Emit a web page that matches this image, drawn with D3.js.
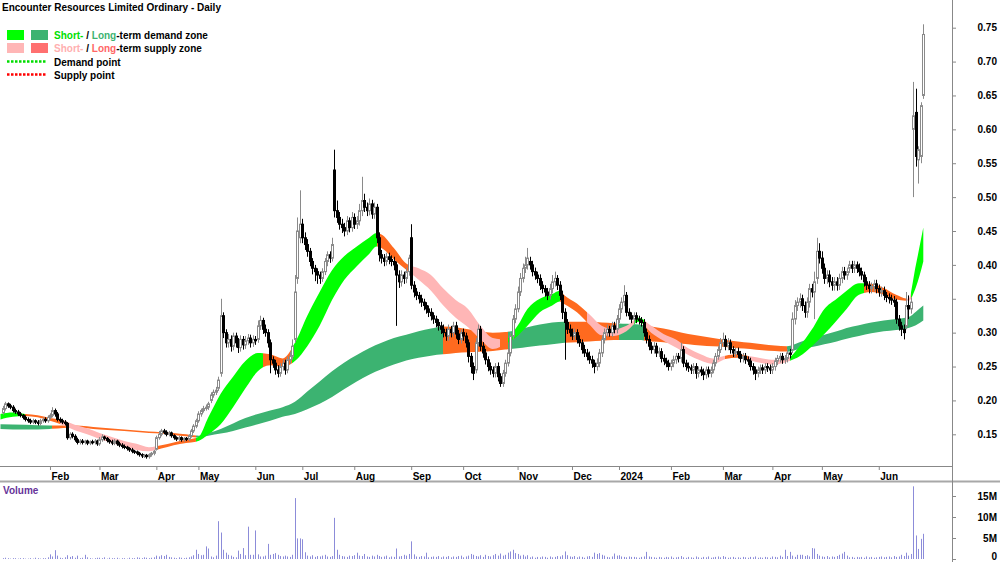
<!DOCTYPE html>
<html>
<head>
<meta charset="utf-8">
<script src="https://cdn.jsdelivr.net/npm/d3@7"></script>
<style>
body { margin: 0; background: #fff; }
text { font-family: "Liberation Sans", Arial, sans-serif; font-weight: bold; font-size: 10px; }
</style>
</head>
<body>
<svg id="chart" width="1000" height="562"></svg>
<script>
// daily bars, first bar 4 Jan 2023
var open = [
  0.182,0.188,0.195,0.192,0.190,0.185,0.183,0.180,0.178,
  0.175,0.172,0.170,0.168,0.170,0.168,0.166,0.170,0.172,0.170,
  0.175,0.178,0.185,0.180,0.172,0.170,0.168,0.166,0.145,0.150,
  0.147,0.142,0.138,0.140,0.138,0.140,0.137,0.139,0.138,0.140,
  0.136,0.142,0.146,0.144,0.141,0.139,0.137,0.140,0.136,0.134,
  0.132,0.131,0.129,0.127,0.125,0.124,0.122,0.120,0.118,0.119,
  0.117,0.120,0.122,0.128,0.145,0.150,0.155,0.153,0.150,0.152,
  0.148,0.145,0.143,0.145,0.142,0.144,0.143,0.148,0.155,0.162,
  0.170,0.180,0.185,0.188,0.190,0.200,0.208,0.212,0.218,
  0.240,0.325,0.300,0.285,0.290,0.280,0.295,0.285,0.278,0.290,
  0.282,0.288,0.292,0.285,0.290,0.290,0.310,0.318,0.305,0.300,
  0.285,0.260,0.255,0.245,0.240,0.250,0.255,0.245,0.260,0.265,
  0.290,0.380,0.440,0.460,0.440,0.430,0.420,0.405,0.395,0.390,
  0.385,0.380,0.390,0.405,0.415,0.410,0.540,0.480,0.470,0.460,
  0.455,0.450,0.465,0.455,0.470,0.460,0.465,0.480,0.495,0.485,
  0.480,0.490,0.475,0.485,0.440,0.415,0.410,0.405,0.412,0.408,
  0.405,0.400,0.385,0.375,0.385,0.380,0.390,0.440,0.370,0.360,
  0.355,0.350,0.345,0.340,0.335,0.330,0.325,0.320,0.315,0.310,
  0.305,0.300,0.295,0.305,0.300,0.310,0.298,0.290,0.300,0.295,
  0.285,0.265,0.250,0.245,0.285,0.305,0.280,0.270,0.260,0.250,
  0.245,0.240,0.250,0.235,0.225,0.240,0.255,0.270,0.295,0.320,
  0.335,0.360,0.380,0.395,0.400,0.405,0.400,0.390,0.385,
  0.380,0.370,0.365,0.360,0.355,0.365,0.375,0.380,0.370,0.355,
  0.330,0.315,0.305,0.300,0.295,0.300,0.290,0.285,0.275,0.270,
  0.265,0.260,0.255,0.250,0.255,0.270,0.290,0.300,0.305,0.300,
  0.310,0.305,0.320,0.335,0.345,0.355,0.330,0.325,0.320,0.325,
  0.320,0.318,0.315,0.300,0.290,0.280,0.275,0.280,0.270,0.272,
  0.262,0.258,0.255,0.250,0.255,0.260,0.265,0.262,0.275,0.255,
  0.250,0.248,0.245,0.250,0.240,0.245,0.242,0.238,0.245,0.240,
  0.245,0.255,0.265,0.275,0.285,0.290,0.280,0.285,0.275,0.270,
  0.272,0.268,0.262,0.265,0.260,0.258,0.250,0.245,0.240,0.245,
  0.248,0.245,0.250,0.248,0.245,0.250,0.258,0.262,0.265,0.260,
  0.262,0.270,0.275,0.320,0.340,0.345,0.350,0.340,0.330,0.345,
  0.365,0.360,0.380,0.420,0.410,0.395,0.380,0.385,0.375,0.370,
  0.375,0.370,0.380,0.390,0.385,0.395,0.400,0.395,0.400,
  0.395,0.390,0.385,0.375,0.370,0.365,0.368,0.372,0.365,0.360,
  0.362,0.355,0.352,0.350,0.348,0.345,0.320,0.310,0.305,0.310,
  0.340,0.335,0.600,0.625,0.555,0.560,0.650
];
var high = [
  0.192,0.198,0.197,0.195,0.193,0.188,0.186,0.183,0.180,
  0.178,0.175,0.173,0.173,0.172,0.171,0.173,0.175,0.175,0.178,
  0.181,0.190,0.188,0.183,0.175,0.173,0.171,0.168,0.153,0.153,
  0.150,0.145,0.143,0.143,0.142,0.142,0.141,0.142,0.143,0.142,
  0.146,0.150,0.148,0.146,0.143,0.142,0.143,0.142,0.139,0.137,
  0.135,0.133,0.131,0.130,0.127,0.126,0.124,0.122,0.121,0.121,
  0.122,0.124,0.127,0.148,0.155,0.158,0.158,0.156,0.155,0.154,
  0.150,0.147,0.148,0.147,0.146,0.146,0.150,0.158,0.165,0.173,
  0.184,0.188,0.192,0.194,0.198,0.212,0.216,0.220,0.235,
  0.350,0.330,0.305,0.298,0.296,0.300,0.300,0.292,0.296,0.295,
  0.295,0.298,0.297,0.296,0.295,0.318,0.325,0.322,0.312,0.305,
  0.290,0.265,0.260,0.252,0.255,0.260,0.260,0.265,0.272,0.290,
  0.385,0.470,0.510,0.468,0.448,0.438,0.425,0.410,0.400,0.395,
  0.390,0.395,0.410,0.420,0.420,0.440,0.570,0.495,0.478,0.468,
  0.462,0.472,0.470,0.478,0.476,0.472,0.490,0.530,0.505,0.492,
  0.498,0.496,0.492,0.490,0.448,0.422,0.416,0.418,0.418,0.414,
  0.412,0.405,0.392,0.392,0.390,0.396,0.415,0.460,0.376,0.366,
  0.360,0.356,0.350,0.345,0.340,0.336,0.330,0.325,0.320,0.316,
  0.312,0.306,0.312,0.310,0.316,0.316,0.304,0.305,0.306,0.300,
  0.290,0.270,0.256,0.292,0.312,0.310,0.286,0.276,0.265,0.256,
  0.250,0.255,0.256,0.240,0.245,0.260,0.276,0.300,0.326,0.342,
  0.368,0.388,0.402,0.412,0.425,0.412,0.406,0.396,0.390,
  0.386,0.376,0.370,0.366,0.372,0.385,0.390,0.385,0.376,0.362,
  0.336,0.320,0.312,0.306,0.306,0.305,0.296,0.290,0.282,0.276,
  0.272,0.266,0.260,0.262,0.276,0.296,0.306,0.312,0.310,0.316,
  0.316,0.326,0.342,0.352,0.370,0.360,0.336,0.330,0.330,0.330,
  0.325,0.323,0.320,0.306,0.296,0.286,0.286,0.285,0.278,0.277,
  0.268,0.263,0.260,0.260,0.266,0.270,0.270,0.285,0.280,0.260,
  0.256,0.253,0.255,0.255,0.250,0.250,0.247,0.250,0.250,0.250,
  0.260,0.270,0.280,0.292,0.300,0.296,0.292,0.290,0.280,0.278,
  0.278,0.273,0.270,0.270,0.265,0.263,0.255,0.250,0.250,0.253,
  0.253,0.255,0.255,0.253,0.255,0.263,0.267,0.270,0.270,0.267,
  0.276,0.276,0.330,0.348,0.352,0.358,0.356,0.346,0.352,0.372,
  0.372,0.390,0.440,0.432,0.420,0.402,0.392,0.392,0.382,0.382,
  0.382,0.387,0.397,0.397,0.396,0.406,0.406,0.406,0.405,
  0.402,0.396,0.390,0.382,0.376,0.374,0.378,0.378,0.371,0.368,
  0.368,0.360,0.358,0.356,0.354,0.350,0.326,0.316,0.312,0.360,
  0.355,0.352,0.670,0.660,0.575,0.640,0.755
];
var low = [
  0.179,0.185,0.189,0.187,0.182,0.180,0.177,0.175,0.172,
  0.169,0.167,0.165,0.165,0.165,0.163,0.163,0.167,0.167,0.167,
  0.172,0.175,0.176,0.169,0.167,0.165,0.163,0.142,0.142,0.144,
  0.139,0.135,0.135,0.135,0.135,0.134,0.134,0.135,0.135,0.133,
  0.133,0.139,0.141,0.138,0.136,0.134,0.134,0.133,0.131,0.129,
  0.128,0.126,0.124,0.122,0.121,0.119,0.117,0.115,0.115,0.114,
  0.114,0.117,0.119,0.126,0.142,0.147,0.150,0.147,0.147,0.145,
  0.142,0.140,0.140,0.139,0.139,0.140,0.140,0.145,0.152,0.159,
  0.167,0.176,0.182,0.185,0.186,0.196,0.204,0.208,0.214,
  0.235,0.292,0.278,0.278,0.272,0.274,0.278,0.270,0.272,0.275,
  0.276,0.282,0.278,0.279,0.282,0.285,0.304,0.298,0.294,0.278,
  0.240,0.248,0.238,0.234,0.235,0.244,0.238,0.240,0.254,0.260,
  0.285,0.372,0.432,0.432,0.422,0.412,0.398,0.386,0.376,0.372,
  0.372,0.375,0.385,0.398,0.403,0.405,0.470,0.462,0.452,0.447,
  0.442,0.444,0.448,0.449,0.453,0.453,0.458,0.472,0.478,0.472,
  0.473,0.468,0.468,0.432,0.405,0.402,0.398,0.399,0.401,0.398,
  0.392,0.310,0.366,0.368,0.372,0.373,0.384,0.364,0.352,0.348,
  0.343,0.338,0.333,0.328,0.323,0.318,0.313,0.308,0.303,0.298,
  0.293,0.288,0.288,0.293,0.294,0.291,0.283,0.284,0.288,0.278,
  0.256,0.240,0.230,0.240,0.280,0.273,0.263,0.253,0.243,0.238,
  0.234,0.234,0.228,0.220,0.220,0.235,0.250,0.265,0.290,0.314,
  0.330,0.354,0.374,0.388,0.393,0.393,0.383,0.378,0.373,
  0.363,0.358,0.353,0.348,0.349,0.358,0.368,0.363,0.348,0.320,
  0.260,0.298,0.294,0.289,0.289,0.284,0.279,0.269,0.264,0.259,
  0.254,0.248,0.240,0.244,0.249,0.264,0.284,0.294,0.294,0.294,
  0.299,0.299,0.314,0.329,0.339,0.324,0.319,0.314,0.314,0.314,
  0.312,0.309,0.294,0.284,0.274,0.269,0.269,0.264,0.264,0.256,
  0.252,0.249,0.244,0.244,0.249,0.254,0.256,0.256,0.249,0.244,
  0.242,0.239,0.239,0.232,0.234,0.236,0.230,0.232,0.234,0.234,
  0.240,0.250,0.260,0.270,0.279,0.274,0.274,0.269,0.264,0.264,
  0.262,0.256,0.256,0.254,0.252,0.244,0.238,0.230,0.234,0.239,
  0.239,0.239,0.242,0.239,0.239,0.244,0.252,0.256,0.254,0.254,
  0.256,0.262,0.270,0.312,0.332,0.337,0.332,0.322,0.322,0.337,
  0.352,0.320,0.372,0.402,0.387,0.372,0.372,0.367,0.362,0.362,
  0.362,0.363,0.373,0.378,0.378,0.388,0.388,0.388,0.388,
  0.383,0.378,0.368,0.363,0.358,0.358,0.361,0.358,0.353,0.353,
  0.348,0.345,0.343,0.341,0.338,0.313,0.303,0.295,0.290,0.305,
  0.320,0.328,0.500,0.545,0.520,0.550,0.645
];
var close = [
  0.188,0.195,0.192,0.190,0.185,0.183,0.180,0.178,0.175,
  0.172,0.170,0.168,0.170,0.168,0.166,0.170,0.172,0.170,0.175,
  0.178,0.185,0.180,0.172,0.170,0.168,0.166,0.145,0.150,0.147,
  0.142,0.138,0.140,0.138,0.140,0.137,0.139,0.138,0.140,0.136,
  0.142,0.146,0.144,0.141,0.139,0.137,0.140,0.136,0.134,0.132,
  0.131,0.129,0.127,0.125,0.124,0.122,0.120,0.118,0.119,0.117,
  0.120,0.122,0.125,0.145,0.150,0.155,0.153,0.150,0.152,0.148,
  0.145,0.143,0.145,0.142,0.144,0.143,0.148,0.155,0.162,0.170,
  0.180,0.185,0.188,0.190,0.195,0.208,0.212,0.215,0.230,
  0.325,0.300,0.285,0.290,0.280,0.295,0.285,0.278,0.290,0.282,
  0.288,0.292,0.285,0.290,0.288,0.310,0.318,0.305,0.300,0.285,
  0.260,0.255,0.245,0.240,0.250,0.255,0.245,0.260,0.265,0.280,
  0.360,0.450,0.460,0.440,0.430,0.420,0.405,0.395,0.390,0.385,
  0.380,0.390,0.405,0.415,0.410,0.430,0.480,0.470,0.460,0.455,
  0.450,0.465,0.455,0.470,0.460,0.465,0.480,0.495,0.485,0.480,
  0.490,0.475,0.485,0.440,0.415,0.410,0.405,0.412,0.408,0.405,
  0.400,0.385,0.375,0.385,0.380,0.390,0.410,0.370,0.360,0.355,
  0.350,0.345,0.340,0.335,0.330,0.325,0.320,0.315,0.310,0.305,
  0.300,0.295,0.305,0.300,0.310,0.298,0.290,0.300,0.295,0.285,
  0.265,0.250,0.240,0.285,0.305,0.280,0.270,0.260,0.250,0.245,
  0.240,0.250,0.235,0.225,0.240,0.255,0.270,0.295,0.320,0.335,
  0.360,0.380,0.395,0.400,0.410,0.400,0.390,0.385,0.380,
  0.370,0.365,0.360,0.355,0.365,0.375,0.380,0.370,0.355,0.330,
  0.315,0.305,0.300,0.295,0.300,0.290,0.285,0.275,0.270,0.265,
  0.260,0.255,0.250,0.255,0.270,0.290,0.300,0.305,0.300,0.310,
  0.305,0.320,0.335,0.345,0.355,0.330,0.325,0.320,0.325,0.320,
  0.318,0.315,0.300,0.290,0.280,0.275,0.280,0.270,0.272,0.262,
  0.258,0.255,0.250,0.255,0.260,0.265,0.262,0.275,0.255,0.250,
  0.248,0.245,0.250,0.240,0.245,0.242,0.238,0.245,0.240,0.245,
  0.255,0.265,0.275,0.285,0.290,0.280,0.285,0.275,0.270,0.272,
  0.268,0.262,0.265,0.260,0.258,0.250,0.245,0.240,0.245,0.248,
  0.245,0.250,0.248,0.245,0.250,0.258,0.262,0.265,0.260,0.262,
  0.270,0.268,0.320,0.340,0.345,0.350,0.340,0.330,0.345,0.365,
  0.360,0.375,0.420,0.410,0.395,0.380,0.385,0.375,0.370,0.375,
  0.370,0.380,0.390,0.385,0.390,0.400,0.395,0.400,0.395,
  0.390,0.385,0.375,0.370,0.365,0.368,0.372,0.365,0.360,0.362,
  0.355,0.352,0.350,0.348,0.345,0.320,0.310,0.305,0.300,0.340,
  0.335,0.345,0.620,0.560,0.570,0.635,0.740
];
// volume in millions
var volume = [
  0.2,0.3,0.2,0.1,0.2,0.2,0.1,0.2,0.2,
  0.1,0.1,0.2,0.1,0.3,0.2,0.1,0.2,0.2,0.4,
  1.1,0.6,2.1,0.8,0.3,0.2,0.4,0.9,0.5,0.7,
  0.3,0.8,0.2,0.3,1.0,0.4,0.2,0.1,0.2,0.3,
  0.3,0.2,0.4,0.1,0.3,0.2,0.2,0.3,0.1,0.2,
  0.2,0.1,0.3,0.2,0.2,0.4,0.3,0.2,0.4,0.3,
  0.2,0.3,0.4,0.8,0.6,0.9,0.7,1.0,0.5,0.4,
  0.3,0.2,0.4,0.3,0.2,0.3,0.4,0.6,0.9,2.2,
  1.2,0.9,1.0,3.0,2.5,0.6,0.4,0.8,9.0,
  6.3,2.2,1.5,1.0,0.8,0.5,0.4,2.0,1.2,2.6,
  0.9,7.7,1.0,1.0,6.8,1.1,0.6,0.6,0.8,3.6,
  1.0,1.2,1.4,1.0,0.7,0.6,0.8,0.6,0.5,1.0,
  14.5,4.9,4.9,4.7,1.6,0.8,0.6,0.9,0.5,0.7,
  0.6,0.8,1.0,0.6,0.5,0.7,9.8,2.2,1.0,0.7,
  0.6,0.5,0.8,0.7,0.9,1.5,0.8,0.7,1.2,0.6,
  0.5,0.8,0.6,1.0,0.7,0.5,0.6,0.8,0.4,0.6,
  0.5,2.5,0.6,0.7,1.0,0.8,1.2,4.2,1.1,0.6,
  0.5,0.7,0.6,1.5,0.4,0.5,0.6,0.5,0.7,0.4,
  0.6,0.5,0.7,0.4,0.6,0.5,0.7,0.8,0.4,0.6,
  0.8,1.2,1.0,0.7,0.6,0.9,0.5,1.0,0.7,0.6,
  0.9,1.2,0.8,1.3,0.8,1.0,1.5,1.8,2.2,1.4,
  1.2,0.8,1.0,0.6,0.9,0.4,0.6,0.3,0.5,
  0.4,0.6,0.5,0.3,0.6,0.4,0.5,0.7,0.6,0.9,
  1.8,0.9,0.6,0.5,0.7,0.4,0.6,0.5,0.3,0.6,
  0.7,0.5,1.5,1.2,1.4,1.0,0.8,0.5,0.4,0.6,
  1.3,0.8,0.9,0.6,0.5,0.4,0.6,0.5,0.5,0.4,
  0.3,0.5,0.6,1.7,0.6,0.5,0.4,0.3,0.5,0.4,
  0.3,0.5,0.4,0.6,0.3,0.4,0.5,0.7,0.4,0.3,
  0.5,0.4,0.3,0.6,0.4,0.3,0.5,0.4,0.6,0.3,
  0.4,0.5,0.6,0.4,0.7,0.5,0.3,0.4,0.5,0.3,
  0.4,0.3,0.5,0.4,0.3,0.5,0.4,0.6,0.3,0.4,
  0.3,0.5,0.4,0.3,0.6,0.5,0.4,0.8,0.5,2.2,
  0.7,1.7,0.8,0.5,1.0,1.0,1.0,0.7,0.9,0.6,
  2.6,2.5,1.2,0.8,0.6,0.5,0.7,0.4,0.6,0.5,
  0.7,1.0,1.3,1.7,0.8,0.4,0.5,0.3,0.5,
  0.4,0.5,0.3,0.6,0.4,0.5,0.3,0.4,0.5,0.6,
  0.4,0.5,0.6,0.4,0.7,0.5,0.6,1.0,0.7,1.5,
  0.8,1.2,17.3,5.6,2.4,4.8,6.0
];

// zone ribbons, sampled at bar indices
var stIdx = [-1,4,9,14,19,24,29,34,39,44,49,54,59,64,69,74,79,83,88,93,98,103,108,113,118,123,128,133,138,143,148,151,153,158,163,168,173,178,183,188,193,198,203,208,212,217,222,225,227,232,237,242,247,252,257,262,267,272,277,282,287,292,297,302,307,312,317,322,327,332,337,341,346,351,356,361,366,369,372];
var stUpper = [0.180,0.182,0.180,0.178,0.174,0.171,0.164,0.159,0.152,0.146,0.140,0.136,0.131,0.134,0.138,0.142,0.146,0.175,0.210,0.235,0.258,0.270,0.268,0.262,0.285,0.325,0.360,0.392,0.413,0.427,0.440,0.447,0.445,0.425,0.402,0.395,0.385,0.365,0.348,0.335,0.310,0.292,0.290,0.310,0.335,0.350,0.357,0.362,0.355,0.343,0.327,0.310,0.305,0.310,0.322,0.310,0.298,0.290,0.277,0.268,0.262,0.266,0.268,0.265,0.262,0.260,0.262,0.280,0.305,0.335,0.350,0.362,0.373,0.372,0.366,0.356,0.350,0.400,0.455];
var stLower = [0.172,0.176,0.177,0.175,0.170,0.164,0.156,0.150,0.143,0.137,0.132,0.127,0.125,0.129,0.134,0.137,0.140,0.150,0.165,0.190,0.218,0.243,0.252,0.250,0.258,0.280,0.310,0.348,0.378,0.398,0.416,0.427,0.425,0.408,0.393,0.378,0.362,0.340,0.322,0.308,0.290,0.276,0.283,0.295,0.310,0.330,0.340,0.346,0.342,0.330,0.312,0.296,0.295,0.302,0.316,0.300,0.288,0.278,0.267,0.259,0.254,0.261,0.263,0.259,0.255,0.253,0.257,0.265,0.280,0.298,0.318,0.335,0.356,0.360,0.356,0.349,0.347,0.367,0.405];
var ltIdx = [-1,9,19,29,39,49,59,64,69,74,79,83,88,93,98,103,108,113,118,123,128,133,138,143,148,153,158,163,168,173,178,183,188,193,198,203,208,212,217,222,227,232,237,242,247,252,257,262,267,272,277,282,287,292,297,302,307,312,317,322,327,332,337,341,346,351,356,361,366,369,372];
var ltUpper = [0.165,0.164,0.163,0.163,0.160,0.157,0.154,0.153,0.152,0.150,0.148,0.152,0.158,0.166,0.174,0.180,0.185,0.190,0.198,0.213,0.228,0.243,0.256,0.267,0.277,0.285,0.292,0.297,0.302,0.306,0.309,0.308,0.305,0.302,0.300,0.301,0.304,0.308,0.312,0.315,0.316,0.316,0.316,0.315,0.314,0.313,0.312,0.309,0.306,0.302,0.298,0.295,0.292,0.289,0.287,0.285,0.283,0.281,0.280,0.286,0.292,0.297,0.302,0.307,0.311,0.315,0.318,0.320,0.323,0.331,0.340];
var ltLower = [0.158,0.157,0.158,0.160,0.157,0.155,0.152,0.151,0.149,0.147,0.145,0.148,0.151,0.155,0.160,0.165,0.170,0.176,0.180,0.187,0.195,0.205,0.217,0.228,0.238,0.246,0.253,0.259,0.263,0.266,0.268,0.270,0.271,0.272,0.273,0.275,0.277,0.279,0.281,0.283,0.285,0.286,0.287,0.288,0.289,0.289,0.289,0.287,0.286,0.284,0.283,0.281,0.280,0.279,0.277,0.276,0.274,0.273,0.272,0.276,0.279,0.283,0.287,0.291,0.295,0.299,0.302,0.304,0.307,0.311,0.318];
// colour state of each ribbon: [from bar, to bar, zone]
var stZones = [[-1.2,9,"stD"],[9,23,"ltS"],[23,62,"stS"],[62,78,"ltS"],[78,105,"stD"],[105,117,"ltS"],[117,151,"stD"],[151,165,"ltS"],[165,201,"stS"],[201,204,"ltS"],[204,225,"stD"],[225,236,"ltS"],[236,255,"stS"],[255,259,"stD"],[259,292,"stS"],[292,301,"ltS"],[301,318,"stS"],[318,348,"stD"],[348,365,"ltS"],[365,367,"stS"],[367,373,"stD"]];
var ltZones = [[-1.2,20,"ltD"],[20,78,"ltS"],[78,178,"ltD"],[178,204,"ltS"],[204,227,"ltD"],[227,249,"ltS"],[249,259,"ltD"],[259,317,"ltS"],[317,373,"ltD"]];

var yTicks = [0.15,0.20,0.25,0.30,0.35,0.40,0.45,0.50,0.55,0.60,0.65,0.70,0.75];
var volTicks = [0,5,10,15];
var holidays = ["2023-01-26","2023-04-07","2023-04-10","2023-04-25","2023-06-12","2023-12-25","2023-12-26","2024-01-01","2024-01-26","2024-03-29","2024-04-01","2024-04-25","2024-06-10"];
var haltDays = ["2023-06-29","2023-06-30"];

var zoneColor = {stD: "#00ff00", ltD: "#3cb371", stS: "#ffb6b6", ltS: "#ff6a1f"};

var N = close.length;
var plotRight = 952, priceBottom = 466;

var svg = d3.select("#chart");
var defs = svg.append("defs");

// trading days
var skip = new Set(holidays.concat(haltDays));
var fmtKey = d3.timeFormat("%Y-%m-%d");
var dates = [];
var dt = new Date(2023, 0, 4);
while (dates.length < N) {
    var wd = dt.getDay();
    if (wd !== 0 && wd !== 6 && !skip.has(fmtKey(dt))) dates.push(new Date(dt));
    dt.setDate(dt.getDate() + 1);
}

var x = d3.scaleLinear().domain([-1.2, 383.6]).range([0, plotRight]);
var y = d3.scaleLinear().domain([0.15, 0.75]).range([434.3, 27.7]);
var yv = d3.scaleLinear().domain([0, 15]).range([559, 496]);

function px(j) { return Math.round(x(j)) + 0.5; }

//********** RIBBONS ************
function drawBand(idx, up, lo, zones, name) {
    var g = svg.append("g");
    var pts = d3.range(idx.length);
    var area = d3.area()
        .curve(d3.curveMonotoneX)
        .x(function(k) { return x(idx[k]); })
        .y0(function(k) { return y(lo[k]); })
        .y1(function(k) { return y(up[k]); });
    zones.forEach(function(z, k) {
        var x0 = Math.round(x(z[0])), x1 = Math.round(x(z[1]));
        defs.append("clipPath").attr("id", name + k)
            .append("rect").attr("x", x0).attr("y", 0)
            .attr("width", x1 - x0).attr("height", priceBottom);
        g.append("path").datum(pts)
            .attr("d", area)
            .attr("fill", zoneColor[z[2]])
            .attr("clip-path", "url(#" + name + k + ")");
    });
}
drawBand(ltIdx, ltUpper, ltLower, ltZones, "lt");
drawBand(stIdx, stUpper, stLower, stZones, "st");

//********** CANDLES ************
var bars = svg.append("g").selectAll("g")
    .data(d3.range(N))
    .enter().append("g");

bars.append("line")
    .attr("x1", px).attr("x2", px)
    .attr("y1", function(j) { return y(high[j]); })
    .attr("y2", function(j) { return y(low[j]); })
    .attr("stroke", function(j) { return close[j] >= open[j] ? "#8a8a8a" : "#000"; })
    .attr("stroke-width", 1);

bars.append("rect")
    .attr("x", function(j) { return px(j) - 1; })
    .attr("width", 2)
    .attr("y", function(j) { return y(Math.max(open[j], close[j])); })
    .attr("height", function(j) { return Math.max(1, Math.abs(y(open[j]) - y(close[j]))); })
    .attr("fill", function(j) { return close[j] >= open[j] ? "#fff" : "#000"; })
    .attr("stroke", function(j) { return close[j] >= open[j] ? "#8a8a8a" : "#000"; })
    .attr("stroke-width", 1);

//********** VOLUME ************
svg.append("g").selectAll("line")
    .data(d3.range(N))
    .enter().append("line")
    .attr("x1", px).attr("x2", px)
    .attr("y1", yv(0))
    .attr("y2", function(j) { return yv(volume[j]); })
    .attr("stroke", "#8c8cd9")
    .attr("stroke-width", 1);

//********** FRAME & AXES ************
svg.append("line").attr("x1", 0).attr("x2", plotRight).attr("y1", priceBottom + 0.5).attr("y2", priceBottom + 0.5)
    .attr("stroke", "#888");
svg.append("rect").attr("x", 0).attr("y", 480.5).attr("width", 1000).attr("height", 2).attr("fill", "#a8a8a8");
svg.append("line").attr("x1", plotRight + 0.5).attr("x2", plotRight + 0.5).attr("y1", 0).attr("y2", 562)
    .attr("stroke", "#888");

var yAxis = d3.axisRight(y).tickValues(yTicks).tickFormat(d3.format(".2f")).tickSize(4);
var gy = svg.append("g").attr("transform", "translate(" + plotRight + ",0)").call(yAxis);
gy.select(".domain").remove();
gy.style("color", "#888");
gy.selectAll("text").attr("x", 45).style("text-anchor", "end").attr("fill", "#000");

var vAxis = d3.axisRight(yv).tickValues(volTicks)
    .tickFormat(function(d) { return d === 0 ? "0" : d + "M"; }).tickSize(4);
var gv = svg.append("g").attr("transform", "translate(" + plotRight + ",0)").call(vAxis);
gv.select(".domain").remove();
gv.style("color", "#888");
gv.selectAll("text").attr("x", 45).style("text-anchor", "end").attr("fill", "#000")
    .attr("dy", function(d) { return d === 0 ? "0.02em" : "0.32em"; });

var monthIdx = d3.range(1, N).filter(function(j) {
    return dates[j].getMonth() !== dates[j - 1].getMonth();
});
var xAxis = d3.axisBottom(x).tickValues(monthIdx).tickSize(4)
    .tickFormat(function(j) {
        return dates[j].getMonth() === 0 ? d3.timeFormat("%Y")(dates[j]) : d3.timeFormat("%b")(dates[j]);
    });
var gx = svg.append("g").attr("transform", "translate(0," + priceBottom + ")").call(xAxis);
gx.select(".domain").remove();
gx.style("color", "#888");
gx.selectAll("text").attr("x", 1).style("text-anchor", "start").attr("fill", "#000");

//********** TITLES & LEGEND ************
svg.append("text").attr("x", 2).attr("y", 11).attr("fill", "#000")
    .text("Encounter Resources Limited Ordinary - Daily");
svg.append("text").attr("x", 3).attr("y", 494).attr("fill", "#663399").text("Volume");

var legendRows = [
    {y: 30, a: "stD", b: "ltD", cs: "#00e000", cl: "#3cb371", rest: "-term demand zone"},
    {y: 43, a: "stS", b: "ltS", cs: "#ffb0b0", cl: "#ff6666", rest: "-term supply zone"}
];
legendRows.forEach(function(r, i) {
    svg.append("rect").attr("x", 7).attr("y", r.y).attr("width", 17).attr("height", 10).attr("fill", zoneColor[r.a]);
    svg.append("rect").attr("x", 31).attr("y", r.y).attr("width", 17).attr("height", 10)
        .attr("fill", i === 0 ? zoneColor.ltD : "#ff7070");
    var t = svg.append("text").attr("x", 54).attr("y", r.y + 9).attr("fill", "#000");
    t.append("tspan").attr("fill", r.cs).text("Short-");
    t.append("tspan").text(" / ");
    t.append("tspan").attr("fill", r.cl).text("Long");
    t.append("tspan").text(r.rest);
});
[{y: 61.5, c: "#00dd00", t: "Demand point"}, {y: 74.5, c: "#ff0000", t: "Supply point"}].forEach(function(r) {
    svg.append("line").attr("x1", 7).attr("x2", 46).attr("y1", r.y).attr("y2", r.y)
        .attr("stroke", r.c).attr("stroke-width", 2.5).attr("stroke-dasharray", "2.5,1.5");
    svg.append("text").attr("x", 54).attr("y", r.y + 4).attr("fill", "#000").text(r.t);
});
</script>
</body>
</html>
